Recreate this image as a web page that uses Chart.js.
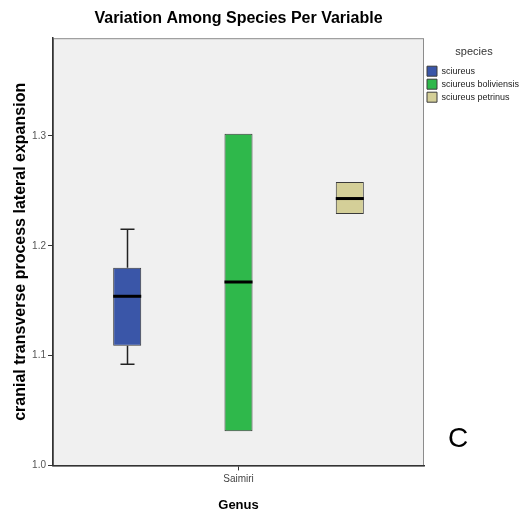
<!DOCTYPE html>
<html lang="en">
<head>
    <meta charset="UTF-8">
    <title>Variation Among Species Per Variable</title>
    <script src="https://cdn.jsdelivr.net/npm/chart.js"></script>
    <style>
        body {
            margin: 0;
            background: #fff;
        }
        canvas {
            display: block;
        }
    </style>
</head>
<body>
    <canvas id="boxChart" width="524" height="517"></canvas>

    <script>
        // Values
        const genus = ['Saimiri'];
        const species = ['sciureus', 'sciureus boliviensis', 'sciureus petrinus'];
        const colors = ['#3a56a8', '#2fb84b', '#d4cf98'];
        const whiskerLow = [1.092, 1.031, 1.229];
        const q1 = [1.109, 1.031, 1.229];
        const median = [1.154, 1.167, 1.243];
        const q3 = [1.180, 1.302, 1.258];
        const whiskerHigh = [1.215, 1.302, 1.258];
        const yTicks = [1.0, 1.1, 1.2, 1.3];

        // Plot background, frame, whiskers, medians and the panel letter
        const boxExtras = {
            id: 'boxExtras',
            beforeDraw(chart) {
                const { ctx, chartArea: a } = chart;
                ctx.save();
                ctx.fillStyle = '#f0f0f0';
                ctx.fillRect(a.left, a.top, a.right - a.left, a.bottom - a.top);
                ctx.strokeStyle = '#8c8c8c';
                ctx.lineWidth = 1;
                ctx.strokeRect(a.left + 0.5, a.top + 0.5, a.right - a.left - 1, a.bottom - a.top);
                ctx.restore();
            },
            afterDatasetsDraw(chart) {
                const { ctx } = chart;
                const y = chart.scales.y;
                ctx.save();
                chart.data.datasets.forEach((ds, i) => {
                    const bar = chart.getDatasetMeta(i).data[0];
                    const x = Math.round(bar.x) + 0.5;
                    const half = bar.width / 2;
                    const cap = bar.width / 4;
                    ctx.strokeStyle = '#222';
                    ctx.lineWidth = 1.5;
                    [[q3[i], whiskerHigh[i]], [q1[i], whiskerLow[i]]].forEach(([from, to]) => {
                        if (from === to) return;
                        ctx.beginPath();
                        ctx.moveTo(x, y.getPixelForValue(from));
                        ctx.lineTo(x, y.getPixelForValue(to));
                        ctx.moveTo(x - cap, y.getPixelForValue(to));
                        ctx.lineTo(x + cap, y.getPixelForValue(to));
                        ctx.stroke();
                    });
                    ctx.strokeStyle = '#000';
                    ctx.lineWidth = 3;
                    ctx.beginPath();
                    ctx.moveTo(bar.x - half, y.getPixelForValue(median[i]));
                    ctx.lineTo(bar.x + half, y.getPixelForValue(median[i]));
                    ctx.stroke();
                });
                ctx.restore();
            },
            afterDraw(chart) {
                const { ctx, chartArea: a } = chart;
                ctx.save();
                ctx.fillStyle = '#000';
                ctx.font = '28px Arial';
                ctx.textBaseline = 'alphabetic';
                ctx.fillText('C', a.right + 24, a.bottom - 18);
                ctx.restore();
            }
        };

        const ctx = document.getElementById('boxChart').getContext('2d');
        new Chart(ctx, {
            type: 'bar',
            data: {
                labels: genus,
                datasets: species.map((s, i) => ({
                    label: s,
                    data: [[q1[i], q3[i]]],
                    backgroundColor: colors[i],
                    borderColor: '#3a3a3a',
                    borderWidth: 1,
                    borderSkipped: false,
                    categoryPercentage: 0.9,
                    barPercentage: 0.252
                }))
            },
            options: {
                responsive: false,
                animation: false,
                layout: {
                    padding: { top: 4, right: 0, bottom: 0, left: 0 }
                },
                plugins: {
                    title: {
                        display: true,
                        text: 'Variation Among Species Per Variable',
                        color: '#000',
                        fullSize: false,
                        font: { family: 'Arial', size: 16, weight: 'bold' },
                        padding: { top: 5, bottom: 10 }
                    },
                    legend: {
                        position: 'right',
                        align: 'start',
                        maxWidth: 100,
                        title: {
                            display: true,
                            text: 'species',
                            color: '#333',
                            font: { family: 'Arial', size: 11 },
                            padding: { top: 42, bottom: 4 }
                        },
                        labels: {
                            boxWidth: 10,
                            boxHeight: 10,
                            padding: 3,
                            color: '#222',
                            font: { family: 'Arial', size: 9 }
                        }
                    },
                    tooltip: { enabled: false }
                },
                scales: {
                    x: {
                        grid: {
                            offset: false,
                            drawOnChartArea: false,
                            tickLength: 5,
                            color: '#333'
                        },
                        border: { color: '#333', width: 1.5 },
                        ticks: {
                            color: '#444',
                            font: { family: 'Arial', size: 10 }
                        },
                        title: {
                            display: true,
                            text: 'Genus',
                            color: '#000',
                            font: { family: 'Arial', size: 13, weight: 'bold' },
                            padding: { top: 9 }
                        }
                    },
                    y: {
                        min: 1.0,
                        max: 1.389,
                        afterBuildTicks: scale => {
                            scale.ticks = yTicks.map(v => ({ value: v }));
                        },
                        afterFit: scale => {
                            scale.width = 53;
                        },
                        grid: {
                            drawOnChartArea: false,
                            tickLength: 5,
                            color: '#333'
                        },
                        border: { color: '#333', width: 1.5 },
                        ticks: {
                            color: '#555',
                            padding: 2,
                            font: { family: 'Arial', size: 10 },
                            callback: v => Number(v).toFixed(1)
                        },
                        title: {
                            display: true,
                            text: 'cranial transverse process lateral expansion',
                            color: '#000',
                            font: { family: 'Arial', size: 16, weight: 'bold' },
                            padding: { top: 11, bottom: 0 }
                        }
                    }
                }
            },
            plugins: [boxExtras]
        });
    </script>
</body>
</html>
